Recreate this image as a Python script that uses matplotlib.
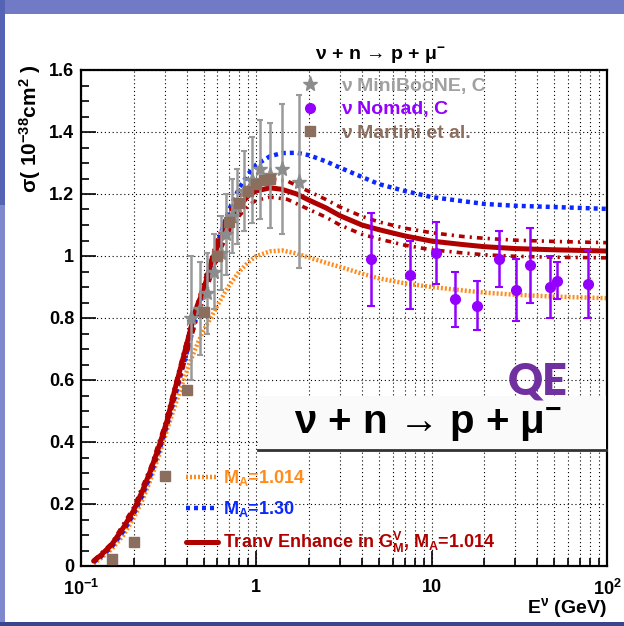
import numpy as np
import matplotlib.pyplot as plt
from matplotlib.ticker import LogLocator, MultipleLocator, NullFormatter
from matplotlib.patches import Rectangle
from matplotlib.lines import Line2D

plt.rcParams['font.family'] = ['Liberation Sans', 'DejaVu Sans']
plt.rcParams['font.weight'] = 'bold'
plt.rcParams['mathtext.fontset'] = 'custom'
plt.rcParams['mathtext.rm'] = 'Liberation Sans:bold'
plt.rcParams['mathtext.bf'] = 'Liberation Sans:bold'
plt.rcParams['mathtext.it'] = 'Liberation Sans:bold'
plt.rcParams['mathtext.default'] = 'rm'

# ---- curves (E in GeV, sigma in 1e-38 cm^2) ----
E_curve = [0.118, 0.13, 0.15, 0.175, 0.2, 0.225, 0.25, 0.28, 0.31, 0.345, 0.38,
           0.42, 0.46, 0.5, 0.55, 0.6, 0.65, 0.7, 0.8, 0.9, 1.0, 1.2, 1.4, 1.7,
           2.0, 2.5, 3.0, 4.0, 5.0, 7.0, 10, 15, 20, 30, 50, 100]
sig_tranv = [0.016, 0.035, 0.07, 0.125, 0.18, 0.245, 0.31, 0.39, 0.47, 0.575, 0.665,
             0.76, 0.84, 0.89, 0.975, 1.03, 1.075, 1.11, 1.16, 1.195, 1.21, 1.22, 1.215, 1.20,
             1.18, 1.155, 1.13, 1.10, 1.085, 1.065, 1.048, 1.037, 1.03, 1.024, 1.02, 1.016]
sig_ma130 = [0.012, 0.03, 0.062, 0.113, 0.168, 0.23, 0.295, 0.375, 0.455, 0.55, 0.64,
             0.73, 0.815, 0.885, 0.97, 1.04, 1.10, 1.15, 1.22, 1.265, 1.295, 1.322, 1.332, 1.333,
             1.325, 1.305, 1.285, 1.255, 1.232, 1.21, 1.19, 1.177, 1.168, 1.162, 1.158, 1.152]
sig_ma1014 = [0.008, 0.025, 0.055, 0.10, 0.155, 0.215, 0.28, 0.36, 0.44, 0.52, 0.59,
              0.66, 0.715, 0.76, 0.80, 0.84, 0.875, 0.905, 0.95, 0.98, 1.0, 1.015, 1.018, 1.008,
              0.995, 0.978, 0.965, 0.943, 0.928, 0.912, 0.90, 0.889, 0.882, 0.875, 0.869, 0.864]

E_band = [0.118, 0.15, 0.2, 0.25, 0.3, 0.35, 0.4, 0.45, 0.5, 0.6, 0.7, 0.8, 0.9, 1.0,
          1.2, 1.5, 2.0, 2.5, 3, 4, 5, 7, 10, 15, 20, 30, 50, 100]
band_up = [0.018, 0.074, 0.19, 0.32, 0.455, 0.60, 0.725, 0.83, 0.91, 1.055, 1.14, 1.19,
           1.222, 1.238, 1.248, 1.242, 1.208, 1.182, 1.158, 1.128, 1.11, 1.09, 1.075, 1.063,
           1.057, 1.051, 1.047, 1.043]
band_lo = [0.014, 0.066, 0.17, 0.30, 0.43, 0.565, 0.68, 0.785, 0.86, 1.0, 1.08, 1.13,
           1.163, 1.18, 1.19, 1.183, 1.15, 1.125, 1.10, 1.07, 1.055, 1.035, 1.02, 1.01,
           1.004, 0.999, 0.996, 0.994]

# ---- data points ----
E_mb = [0.425, 0.475, 0.525, 0.575, 0.625, 0.675, 0.725, 0.775, 0.85, 0.95, 1.05, 1.2, 1.4, 1.75]
sig_mb = [0.80, 0.83, 0.88, 0.95, 1.01, 1.07, 1.13, 1.16, 1.21, 1.245, 1.28, 1.26, 1.28, 1.24]
err_mb = [0.20, 0.15, 0.13, 0.12, 0.12, 0.13, 0.12, 0.12, 0.13, 0.14, 0.16, 0.17, 0.21, 0.28]

E_nomad = [4.5, 7.5, 10.6, 13.6, 18.1, 24.2, 30.2, 36.3, 47.0, 52.0, 78.0]
sig_nomad = [0.99, 0.94, 1.01, 0.86, 0.84, 0.99, 0.89, 0.97, 0.90, 0.92, 0.91]
err_nomad = [0.15, 0.11, 0.10, 0.09, 0.08, 0.09, 0.10, 0.12, 0.10, 0.06, 0.11]

E_martini = [0.15, 0.2, 0.3, 0.4, 0.5, 0.6, 0.7, 0.8, 0.9, 1.0, 1.1, 1.2]
sig_martini = [0.022, 0.078, 0.291, 0.568, 0.82, 1.0, 1.11, 1.172, 1.21, 1.231, 1.245, 1.25]

xtick_vals = [0.1, 1, 10, 100]
xtick_labels = ['10$^{-1}$', '1', '10', '10$^{2}$']
ytick_vals = [0, 0.2, 0.4, 0.6, 0.8, 1.0, 1.2, 1.4, 1.6]
ytick_labels = ['0', '0.2', '0.4', '0.6', '0.8', '1', '1.2', '1.4', '1.6']

c_orange = '#ff8c1a'
c_blue = '#0a28ff'
c_red = '#b00000'
c_grey = '#8c8c8c'
c_purple = '#9400ff'
c_brown = '#8c6e5f'

W, H = 624, 626
fig = plt.figure(figsize=(W / 100, H / 100), dpi=100)
ax = fig.add_axes([81 / W, 1 - 566 / H, (607 - 81) / W, (566 - 70) / H])

l_or, = ax.plot(E_curve, sig_ma1014, color=c_orange, lw=3.2, ls=(0, (0.45, 0.45)))
l_bl, = ax.plot(E_curve, sig_ma130, color=c_blue, lw=3.2, ls=(0, (0.9, 0.9)))
ax.plot(E_band, band_up, color=c_red, lw=2.6, ls=(0, (1.6, 1.4, 0.6, 1.4)))
ax.plot(E_band, band_lo, color=c_red, lw=2.6, ls=(0, (1.6, 1.4, 0.6, 1.4)))
l_rd, = ax.plot(E_curve, sig_tranv, color=c_red, lw=3.6, solid_capstyle='round')

ax.errorbar(E_mb, sig_mb, yerr=err_mb, fmt='none', ecolor='#9a9a9a', elinewidth=1.8,
            capsize=2, capthick=1.5, zorder=4)
h_mb, = ax.plot(E_mb, sig_mb, ls='none', marker='*', ms=11, color=c_grey, zorder=5)
h_mt, = ax.plot(E_martini, sig_martini, ls='none', marker='s', ms=7.5, color=c_brown, zorder=6)
ax.errorbar(E_nomad, sig_nomad, yerr=err_nomad, fmt='none', ecolor=c_purple, elinewidth=1.8,
            capsize=3, capthick=1.5, zorder=6)
h_nd, = ax.plot(E_nomad, sig_nomad, ls='none', marker='o', ms=7, color=c_purple, zorder=7)

ax.set_xscale('log')
ax.set_xlim(0.1, 100)
ax.set_ylim(0, 1.6)
ax.set_xticks(xtick_vals, xtick_labels)
ax.xaxis.set_minor_locator(LogLocator(base=10, subs=np.arange(2, 10)))
ax.xaxis.set_minor_formatter(NullFormatter())
ax.set_yticks(ytick_vals, ytick_labels)
ax.yaxis.set_minor_locator(MultipleLocator(0.05))
ax.tick_params(which='both', direction='in', width=1.2, labelsize=13)
ax.tick_params(which='major', length=11)
ax.tick_params(which='minor', length=6)
ax.tick_params(axis='x', pad=9)
ax.tick_params(axis='y', pad=5)
for s in ax.spines.values():
    s.set_linewidth(1.6)
ax.grid(True, which='both', axis='x', color='black', lw=0.8, ls=(0, (1, 2.5)))
ax.grid(True, which='major', axis='y', color='black', lw=0.8, ls=(0, (1, 2.5)))
ax.set_axisbelow(True)

# top legend (data)
leg1 = ax.legend([h_mb, h_nd, h_mt], ['ν MiniBooNE, C', 'ν Nomad, C', 'ν Martini et al.'],
                 loc='upper left', bbox_to_anchor=(301 / W, 1 - 77 / H),
                 bbox_transform=fig.transFigure, frameon=False, numpoints=1,
                 handlelength=0.95, handletextpad=1.1, labelspacing=0.32,
                 borderpad=0, borderaxespad=0,
                 prop={'size': 14, 'weight': 'bold'},
                 labelcolor=['#a0a0a0', c_purple, c_brown])
ax.add_artist(leg1)

# bottom legend (models)
ax.legend([l_or, l_bl, l_rd],
          ['M$_{A}$=1.014', 'M$_{A}$=1.30', 'Tranv Enhance in G$_{M}^{V}$, M$_{A}$=1.014'],
          loc='upper left', bbox_to_anchor=(186 / W, 1 - 468 / H),
          bbox_transform=fig.transFigure, frameon=False,
          handlelength=1.75, handletextpad=0.3, labelspacing=0.62,
          borderpad=0, borderaxespad=0,
          prop={'size': 13, 'weight': 'bold'},
          labelcolor=[c_orange, c_blue, c_red])

fig.text(380 / W, 1 - 56 / H, 'ν + n → p + μ$^{-}$', ha='center', va='center', fontsize=14)
fig.text(30 / W, 1 - 64 / H, 'σ( 10$^{-38}$cm$^{2}$ )', rotation=90, ha='center', va='top',
         fontsize=15)
fig.text(607 / W, 1 - 608 / H, 'E$^{ν}$ (GeV)', ha='right', va='center', fontsize=14)

# pasted inset with reaction and QE label
fig.patches.append(Rectangle((258 / W, 1 - 452 / H), (606 - 258) / W, (452 - 396) / H,
                             transform=fig.transFigure, facecolor='#fafafa', edgecolor='none',
                             zorder=3))
fig.lines.append(Line2D([258 / W, 606 / W], [1 - 450 / H, 1 - 450 / H], transform=fig.transFigure,
                        color='#333333', lw=2, zorder=4))
fig.text(428 / W, 1 - 425 / H, 'ν + n → p + μ$^{-}$', ha='center', va='center', fontsize=29,
         zorder=5)
fig.text(538 / W, 1 - 382 / H, 'QE', ha='center', va='center', fontsize=31, color='#7030a0',
         family=['Lato', 'DejaVu Sans'], weight='heavy', zorder=5)

# slide border
fig.patches.append(Rectangle((0, 1 - 14 / H), 1, 14 / H, transform=fig.transFigure,
                             facecolor='#717bc5', edgecolor='none', zorder=0))
fig.patches.append(Rectangle((0, 1 - 205 / H), 5 / W, 205 / H, transform=fig.transFigure,
                             facecolor='#5563b5', edgecolor='none', zorder=0))
fig.patches.append(Rectangle((0, 0), 5 / W, 1 - 205 / H, transform=fig.transFigure,
                             facecolor='#7f88cc', edgecolor='none', zorder=0))
fig.patches.append(Rectangle((0, 0), 1, 4 / H, transform=fig.transFigure,
                             facecolor='#3a4590', edgecolor='none', zorder=0))

fig.savefig('out.png', dpi=100)
